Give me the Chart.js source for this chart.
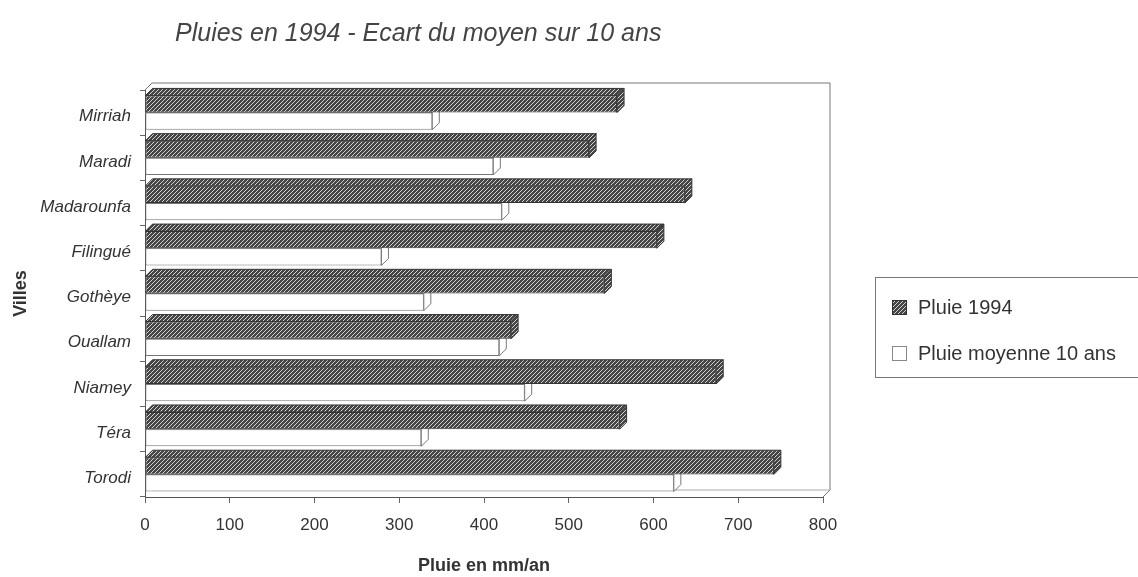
<!DOCTYPE html>
<html>
<head>
<meta charset="utf-8">
<script src="https://cdn.jsdelivr.net/npm/chart.js@4.4.1/dist/chart.umd.min.js"></script>
<style>
html,body{margin:0;padding:0;background:#fff;}
#wrap{position:relative;width:1138px;height:577px;}
#c{position:absolute;left:0;top:0;}
#title{position:absolute;left:175px;top:18px;font:italic 25px "Liberation Sans",Arial,sans-serif;color:#444;white-space:nowrap;}
</style>
</head>
<body>
<div id="wrap">
  <canvas id="c" width="1138" height="577"></canvas>
  <div id="title">Pluies en 1994 - Ecart du moyen sur 10 ans</div>
</div>
<script>
// data (mm / year)
const villes = ["Mirriah","Maradi","Madarounfa","Filingué","Gothèye","Ouallam","Niamey","Téra","Torodi"];
const pluie1994 = [557, 524, 637, 604, 542, 432, 674, 560, 742];
const pluieMoyenne = [339, 411, 421, 279, 329, 418, 448, 326, 624];
const xMin = 0, xMax = 800, xStep = 100;
const serieLabels = ["Pluie 1994", "Pluie moyenne 10 ans"];

const FONT = '"Liberation Sans", Arial, sans-serif';
const D = 7; // depth of the fake 3d

const ctx = document.getElementById("c").getContext("2d");

function makeHatch(){
  const c = document.createElement("canvas");
  c.width = 4; c.height = 4;
  const g = c.getContext("2d");
  g.fillStyle = "#454545";
  g.fillRect(0,0,4,4);
  g.strokeStyle = "#d2d2d2";
  g.lineWidth = 1;
  g.beginPath();
  g.moveTo(0,4); g.lineTo(4,0);
  g.moveTo(-1,1); g.lineTo(1,-1);
  g.moveTo(3,5); g.lineTo(5,3);
  g.stroke();
  return ctx.createPattern(c, "repeat");
}
const hatch = makeHatch();

// walls + floor of the 3d box
const wallPlugin = {
  id: "walls",
  beforeDatasetsDraw(chart){
    const {left, right, top, bottom} = chart.chartArea;
    const g = chart.ctx;
    g.save();
    g.strokeStyle = "#777";
    g.lineWidth = 1;
    g.beginPath();
    g.moveTo(left, top); g.lineTo(left+D, top-D);
    g.lineTo(right+D, top-D);
    g.lineTo(right+D, bottom-D);
    g.lineTo(right, bottom);
    g.stroke();
    g.strokeStyle = "#aaa";
    g.beginPath();
    g.moveTo(left+D, bottom-D); g.lineTo(right+D, bottom-D);
    g.stroke();
    g.restore();
  }
};

// top and end faces of each bar
const depthPlugin = {
  id: "depth",
  afterDatasetDraw(chart, args){
    const g = chart.ctx;
    const i = args.index;
    g.save();
    g.lineWidth = 1;
    args.meta.data.forEach(bar => {
      const p = bar.getProps(["x","y","base","height"], true);
      const t = p.y - p.height/2, b = p.y + p.height/2;
      const x0 = p.base, x1 = p.x;
      g.fillStyle = i === 0 ? hatch : "#fff";
      g.strokeStyle = i === 0 ? "#333" : "#777";
      // top face
      g.beginPath();
      g.moveTo(x0, t); g.lineTo(x0+D, t-D); g.lineTo(x1+D, t-D); g.lineTo(x1, t);
      g.closePath();
      g.fill(); g.stroke();
      // end face
      g.beginPath();
      g.moveTo(x1, t); g.lineTo(x1+D, t-D); g.lineTo(x1+D, b-D); g.lineTo(x1, b);
      g.closePath();
      g.fill(); g.stroke();
    });
    g.restore();
  }
};

// boxed legend on the right, as in the scan
const legendPlugin = {
  id: "boxLegend",
  afterDraw(chart){
    const g = chart.ctx;
    g.save();
    g.strokeStyle = "#777";
    g.lineWidth = 1;
    g.strokeRect(875.5, 277.5, 280, 100);
    g.font = "20px " + FONT;
    g.textBaseline = "middle";
    chart.data.datasets.forEach((ds, k) => {
      const y = 307 + k*46;
      g.fillStyle = k === 0 ? hatch : "#fff";
      g.fillRect(892, y-7, 15, 15);
      g.strokeStyle = k === 0 ? "#333" : "#888";
      g.strokeRect(892.5, y-6.5, 14, 14);
      g.fillStyle = "#333";
      g.fillText(ds.label, 918, y+1);
    });
    g.restore();
  }
};

new Chart(ctx, {
  type: "bar",
  data: {
    labels: villes,
    datasets: [
      {label: serieLabels[0], data: pluie1994, backgroundColor: hatch, borderColor: "#333", borderWidth: 1, borderSkipped: false},
      {label: serieLabels[1], data: pluieMoyenne, backgroundColor: "#fff", borderColor: "#777", borderWidth: 1, borderSkipped: false}
    ]
  },
  options: {
    indexAxis: "y",
    responsive: false,
    animation: false,
    devicePixelRatio: 1,
    datasets: {bar: {categoryPercentage: 0.76, barPercentage: 1}},
    layout: {padding: {top: 90, right: 315, bottom: 0, left: 0}},
    plugins: {legend: {display: false}, tooltip: {enabled: false}, title: {display: false}},
    scales: {
      x: {
        type: "linear", min: xMin, max: xMax,
        ticks: {stepSize: xStep, color: "#333", font: {family: FONT, size: 17}, padding: 12},
        grid: {drawOnChartArea: false, drawTicks: true, tickLength: 6, color: "#666"},
        border: {display: true, color: "#555"},
        title: {display: true, text: "Pluie en mm/an", color: "#333", font: {family: FONT, size: 18, weight: "bold"}, padding: {top: 0, bottom: 0}},
        afterFit: s => { s.height = 80; }
      },
      y: {
        ticks: {color: "#333", font: {family: FONT, size: 17, style: "italic"}, padding: 9, labelOffset: 4},
        grid: {drawOnChartArea: false, drawTicks: true, tickLength: 5, color: "#666", offset: true},
        border: {display: true, color: "#555"},
        title: {display: true, text: "Villes", color: "#333", font: {family: FONT, size: 18, weight: "bold"}, padding: {top: 10, bottom: 0}},
        afterFit: s => { s.width = 145; }
      }
    }
  },
  plugins: [wallPlugin, depthPlugin, legendPlugin]
});
</script>
</body>
</html>
